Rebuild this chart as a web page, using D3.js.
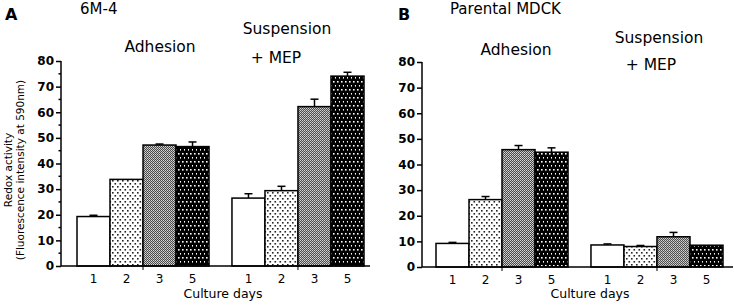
<!DOCTYPE html>
<html>
<head>
<meta charset="utf-8">
<script src="https://cdn.jsdelivr.net/npm/d3@7"></script>
<style>
  body { margin: 0; background: #fff; }
  svg { display: block; }
  text { font-family: "DejaVu Sans", Verdana, sans-serif; fill: #000; }
</style>
</head>
<body>
<div id="chart"></div>
<script>
// Categories
const days = ['1', '2', '3', '5'];
const conditions = ['Adhesion', 'Suspension + MEP'];
const yTicks = [0, 10, 20, 30, 40, 50, 60, 70, 80];

// Panel A: 6M-4
const aAdhesion = [19.3, 33.8, 47.2, 46.6];
const aAdhesionErr = [0.5, 0, 0.4, 1.8];
const aSuspension = [26.5, 29.4, 62.2, 74.1];
const aSuspensionErr = [1.7, 1.7, 2.9, 1.5];

// Panel B: Parental MDCK
const bAdhesion = [9.2, 26.3, 45.8, 44.8];
const bAdhesionErr = [0.4, 1.2, 1.6, 1.7];
const bSuspension = [8.6, 8.0, 11.8, 8.5];
const bSuspensionErr = [0.4, 0.4, 1.7, 0];

const width = 734, height = 307;
const svg = d3.select('#chart').append('svg')
    .attr('width', width)
    .attr('height', height);

// Fill patterns for the four culture days
const defs = svg.append('defs');

const p2 = defs.append('pattern').attr('id', 'dots-light')
    .attr('patternUnits', 'userSpaceOnUse').attr('width', 5).attr('height', 6);
p2.append('rect').attr('width', 5).attr('height', 6).attr('fill', '#fff');
p2.append('rect').attr('x', 0).attr('y', 0).attr('width', 1.6).attr('height', 1.6).attr('fill', '#222');
p2.append('rect').attr('x', 2.5).attr('y', 3).attr('width', 1.6).attr('height', 1.6).attr('fill', '#222');

const p3 = defs.append('pattern').attr('id', 'grey-check')
    .attr('patternUnits', 'userSpaceOnUse').attr('width', 2).attr('height', 2);
p3.append('rect').attr('width', 2).attr('height', 2).attr('fill', '#4a4a4a');
p3.append('rect').attr('width', 1).attr('height', 1).attr('fill', '#d8d8d8');
p3.append('rect').attr('x', 1).attr('y', 1).attr('width', 1).attr('height', 1).attr('fill', '#bbb');

const p4 = defs.append('pattern').attr('id', 'dots-dark')
    .attr('patternUnits', 'userSpaceOnUse').attr('width', 4).attr('height', 8);
p4.append('rect').attr('width', 4).attr('height', 8).attr('fill', '#000');
p4.append('rect').attr('x', 1).attr('y', 1).attr('width', 1.6).attr('height', 1.6).attr('fill', '#fff');
p4.append('rect').attr('x', 3).attr('y', 5).attr('width', 1.6).attr('height', 1.6).attr('fill', '#fff');

const fills = ['#fff', 'url(#dots-light)', 'url(#grey-check)', 'url(#dots-dark)'];

const panels = [
    {
        letter: 'A', letterX: 5, title: '6M-4', titleX: 80,
        axisX: 61, barsStart: 77, barsEnd: 364, axisEnd: 370, y0: 266, y80: 61,
        minorTicks: true,
        values: [aAdhesion, aSuspension], errors: [aAdhesionErr, aSuspensionErr],
        headers: [
            { lines: ['Adhesion'], x: 160, y: [52] },
            { lines: ['Suspension', '+ MEP'], x: [287, 276], y: [34, 63] }
        ],
        daysX: 223
    },
    {
        letter: 'B', letterX: 398, title: 'Parental MDCK', titleX: 450,
        axisX: 422, barsStart: 436, barsEnd: 723, axisEnd: 733, y0: 267, y80: 62,
        minorTicks: false,
        values: [bAdhesion, bSuspension], errors: [bAdhesionErr, bSuspensionErr],
        headers: [
            { lines: ['Adhesion'], x: 516, y: [55] },
            { lines: ['Suspension', '+ MEP'], x: [659, 651], y: [43, 70] }
        ],
        daysX: 590
    }
];

panels.forEach(p => {
    const g = svg.append('g');

    const y = d3.scaleLinear().domain([0, 80]).range([p.y0, p.y80]);
    const x0 = d3.scaleBand().domain(conditions)
        .range([p.barsStart, p.barsEnd]).paddingInner(0.148).paddingOuter(0);
    const x1 = d3.scaleBand().domain(days).range([0, x0.bandwidth()]);

    // Panel letter and title
    g.append('text').attr('x', p.letterX).attr('y', 20)
        .attr('font-family', 'Liberation Sans, Arial, sans-serif')
        .attr('font-weight', 'bold').attr('font-size', 16).text(p.letter);
    g.append('text').attr('x', p.titleX).attr('y', 14)
        .attr('font-size', 15).text(p.title);

    // Group headers
    p.headers.forEach(h => {
        h.lines.forEach((line, k) => {
            g.append('text')
                .attr('x', Array.isArray(h.x) ? h.x[k] : h.x)
                .attr('y', h.y[k])
                .attr('text-anchor', 'middle')
                .attr('font-size', 15.5)
                .text(line);
        });
    });

    // Bars
    conditions.forEach((cond, ci) => {
        const grp = g.append('g').attr('transform', `translate(${x0(cond)},0)`);
        days.forEach((d, di) => {
            const v = p.values[ci][di];
            const e = p.errors[ci][di];
            const bx = x1(d);
            const cx = bx + x1.bandwidth() / 2;
            if (e > 0) {
                grp.append('line')
                    .attr('x1', cx).attr('x2', cx)
                    .attr('y1', y(v)).attr('y2', y(v + e))
                    .attr('stroke', '#000').attr('stroke-width', 1.5);
                grp.append('line')
                    .attr('x1', cx - 4).attr('x2', cx + 4)
                    .attr('y1', y(v + e)).attr('y2', y(v + e))
                    .attr('stroke', '#000').attr('stroke-width', 1.5);
            }
            grp.append('rect')
                .attr('x', bx).attr('y', y(v))
                .attr('width', x1.bandwidth())
                .attr('height', y(0) - y(v))
                .attr('fill', fills[di])
                .attr('stroke', '#000').attr('stroke-width', 1.5);
        });
    });

    // Y axis
    const yAxis = d3.axisLeft(y).tickValues(yTicks).tickSize(5).tickPadding(2);
    const ya = g.append('g').attr('transform', `translate(${p.axisX},0)`).call(yAxis);
    ya.select('.domain').attr('stroke-width', 1.5).attr('d', `M0,${p.y80}V${p.y0}`);
    ya.selectAll('.tick line').attr('stroke-width', 1.5);
    ya.selectAll('.tick text')
        .attr('font-family', 'Liberation Sans, Arial, sans-serif')
        .attr('font-weight', 'bold').attr('font-size', 12);
    if (p.minorTicks) {
        ya.selectAll('.minor')
            .data(yTicks.slice(1).map(t => t - 5))
            .enter().append('line')
            .attr('x1', -2.5).attr('x2', 0)
            .attr('y1', d => y(d)).attr('y2', d => y(d))
            .attr('stroke', '#000').attr('stroke-width', 1.5);
    }

    // X baseline with group ticks
    g.append('line')
        .attr('x1', p.axisX).attr('x2', p.axisEnd)
        .attr('y1', y(0)).attr('y2', y(0))
        .attr('stroke', '#000').attr('stroke-width', 1.5);
    conditions.forEach(cond => {
        const cx = x0(cond) + x0.bandwidth() / 2;
        g.append('line')
            .attr('x1', cx).attr('x2', cx)
            .attr('y1', y(0)).attr('y2', y(0) + 4)
            .attr('stroke', '#000').attr('stroke-width', 1);
        days.forEach(d => {
            g.append('text')
                .attr('x', x0(cond) + x1(d) + x1.bandwidth() / 2)
                .attr('y', y(0) + 17)
                .attr('text-anchor', 'middle')
                .attr('font-size', 12)
                .text(d);
        });
    });

    g.append('text').attr('x', p.daysX).attr('y', 298)
        .attr('text-anchor', 'middle').attr('font-size', 12.5)
        .text('Culture days');
});

// Y axis title (panel A only)
const yTitle = svg.append('g').attr('transform', 'translate(0,170) rotate(-90)');
yTitle.append('text').attr('x', 0).attr('y', 12)
    .attr('text-anchor', 'middle').attr('font-size', 10.5).text('Redox activity');
yTitle.append('text').attr('x', 0).attr('y', 24)
    .attr('text-anchor', 'middle').attr('font-size', 10.5).text('(Fluorescence intensity at 590nm)');
</script>
</body>
</html>
